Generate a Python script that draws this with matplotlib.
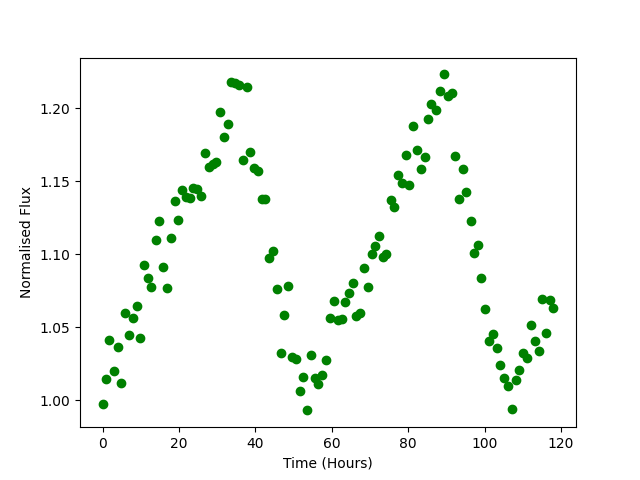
import matplotlib
matplotlib.use("Agg")
import matplotlib.pyplot as plt
import numpy as np

time = np.array([
    0.0, 0.9, 1.8, 3.0, 4.0, 4.8, 5.8, 6.9, 7.9, 9.0,
    9.8, 10.8, 11.9, 12.8, 13.9, 14.7, 15.8, 16.8, 17.8, 18.9,
    19.8, 20.8, 21.8, 22.9, 23.7, 24.7, 25.8, 26.8, 27.8, 28.8,
    29.7, 30.7, 31.8, 32.8, 33.7, 34.7, 35.8, 36.7, 37.8, 38.6,
    39.6, 40.7, 41.6, 42.4, 43.5, 44.6, 45.7, 46.7, 47.4, 48.5,
    49.5, 50.7, 51.7, 52.5, 53.5, 54.5, 55.6, 56.5, 57.4, 58.5,
    59.5, 60.6, 61.6, 62.6, 63.5, 64.5, 65.6, 66.4, 67.4, 68.5,
    69.5, 70.5, 71.3, 72.4, 73.4, 74.3, 75.5, 76.3, 77.4, 78.4,
    79.5, 80.2, 81.3, 82.3, 83.4, 84.4, 85.1, 85.9, 87.2, 88.3,
    89.4, 90.5, 91.4, 92.3, 93.3, 94.4, 95.2, 96.3, 97.3, 98.3,
    99.1, 100.2, 101.2, 102.3, 103.3, 104.1, 105.1, 106.2, 107.2, 108.3,
    109.1, 110.1, 111.1, 112.2, 113.2, 114.2, 115.0, 116.1, 117.1, 118.0,
])

flux = np.array([
    0.9971, 1.0142, 1.0409, 1.0203, 1.0361, 1.0121, 1.0594, 1.0445, 1.0560, 1.0644,
    1.0429, 1.0923, 1.0838, 1.0776, 1.1094, 1.1224, 1.0909, 1.0769, 1.1110, 1.1361,
    1.1231, 1.1438, 1.1388, 1.1382, 1.1452, 1.1443, 1.1395, 1.1692, 1.1598, 1.1614,
    1.1630, 1.1976, 1.1799, 1.1890, 1.2178, 1.2171, 1.2158, 1.1644, 1.2142, 1.1703,
    1.1588, 1.1571, 1.1375, 1.1380, 1.0977, 1.1025, 1.0758, 1.0320, 1.0580, 1.0779,
    1.0298, 1.0283, 1.0060, 1.0161, 0.9930, 1.0306, 1.0149, 1.0111, 1.0170, 1.0272,
    1.0566, 1.0676, 1.0548, 1.0555, 1.0669, 1.0731, 1.0801, 1.0577, 1.0594, 1.0902,
    1.0772, 1.0999, 1.1053, 1.1123, 1.0982, 1.0998, 1.1368, 1.1320, 1.1539, 1.1484,
    1.1676, 1.1477, 1.1875, 1.1710, 1.1580, 1.1662, 1.1923, 1.2026, 1.1986, 1.2116,
    1.2231, 1.2082, 1.2101, 1.1671, 1.1379, 1.1580, 1.1425, 1.1224, 1.1005, 1.1062,
    1.0834, 1.0621, 1.0402, 1.0450, 1.0354, 1.0238, 1.0149, 1.0094, 0.9943, 1.0135,
    1.0210, 1.0320, 1.0292, 1.0512, 1.0402, 1.0340, 1.0690, 1.0457, 1.0685, 1.0632,
])

plt.figure(figsize=(6.4, 4.8), dpi=100)
plt.plot(time, flux, 'go')
plt.xlabel('Time (Hours)')
plt.ylabel('Normalised Flux')
plt.savefig('out.png')
